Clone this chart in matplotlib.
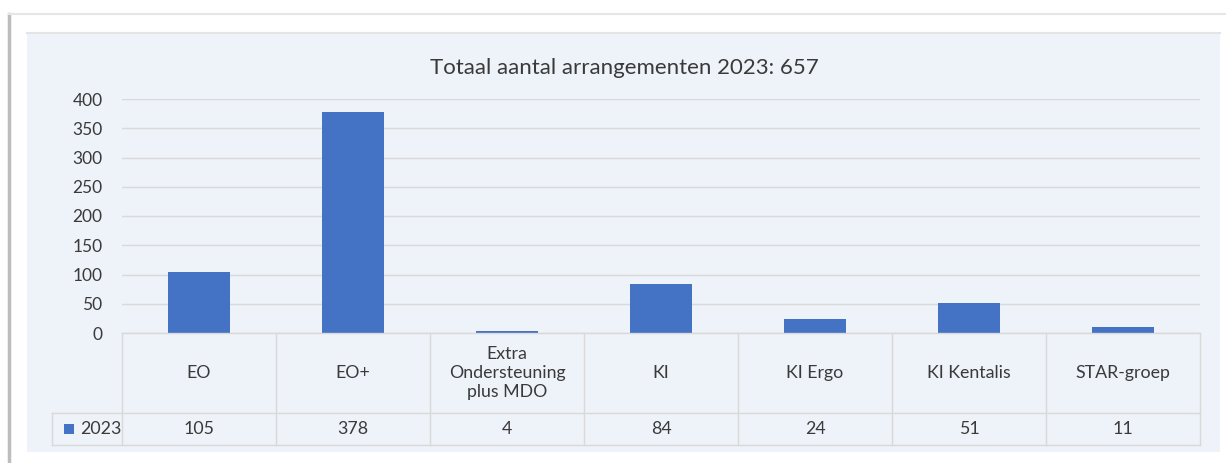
import matplotlib

matplotlib.use("Agg")
import matplotlib.pyplot as plt
from matplotlib.patches import Rectangle
from matplotlib.lines import Line2D

categories = ["EO", "EO+", "Extra\nOndersteuning\nplus MDO", "KI", "KI Ergo", "KI Kentalis", "STAR-groep"]
values_2023 = [105, 378, 4, 84, 24, 51, 11]
series_name = "2023"
title = "Totaal aantal arrangementen 2023: 657"
yticks = [0, 50, 100, 150, 200, 250, 300, 350, 400]

W, H = 1226, 463
BAR = "#4472C4"
PANEL = "#EEF2F9"
GRID = "#D9D9D9"
TXT = "#3A3A3A"

plt.rcParams["font.family"] = ["Lato", "DejaVu Sans"]

fig = plt.figure(figsize=(W / 100, H / 100), dpi=100)
fig.patch.set_facecolor("white")


def fx(px):
    return px / W


def fy(py):
    return 1 - py / H


# frame shadow (left + top) and inner panel
fig.lines.append(Line2D([fx(9), fx(9)], [fy(14), 0], transform=fig.transFigure,
                        color="#BDBDBD", linewidth=2.5, zorder=-3))
fig.lines.append(Line2D([fx(9), 1], [fy(14), fy(14)], transform=fig.transFigure,
                        color="#E6E6E6", linewidth=1.5, zorder=-3))
fig.patches.append(Rectangle((fx(27), fy(452)), fx(1193), fy(33) - fy(452),
                             transform=fig.transFigure, facecolor=PANEL,
                             edgecolor="none", zorder=-2))
fig.lines.append(Line2D([fx(27), fx(1220)], [fy(33), fy(33)], transform=fig.transFigure,
                        color="#E4E4E4", linewidth=1.5, zorder=-1))

left, right = 122, 1200
ax = fig.add_axes([fx(left), fy(333), fx(right - left), fy(99) - fy(333)])
ax.set_facecolor("none")
n = len(categories)
ax.bar(range(n), values_2023, width=0.4, color=BAR, zorder=3)
ax.set_xlim(-0.5, n - 0.5)
ax.set_ylim(0, 400)
ax.set_yticks(yticks)
ax.yaxis.grid(True, color=GRID, linewidth=1)
ax.set_axisbelow(True)
ax.set_xticks([])
for s in ax.spines.values():
    s.set_visible(False)
ax.tick_params(axis="y", length=0, labelsize=12.5, labelcolor=TXT, pad=14)
fig.text(fx(624), fy(68), title, ha="center", va="center", fontsize=16, color=TXT)

# data table below the plot
tab = fig.add_axes([fx(left), fy(445), fx(right - left), fy(333) - fy(445)], sharex=ax)
tab.set_facecolor("none")
tab.set_ylim(112, 0)
tab.axis("off")
label_x = -0.5 - (left - 52) / ((right - left) / n)
lw, lc = 1.0, GRID
tab.plot([-0.5, n - 0.5], [0, 0], color=lc, lw=lw, clip_on=False)
tab.plot([label_x, n - 0.5], [80, 80], color=lc, lw=lw, clip_on=False)
tab.plot([label_x, n - 0.5], [112, 112], color=lc, lw=lw, clip_on=False)
tab.plot([label_x, label_x], [80, 112], color=lc, lw=lw, clip_on=False)
for i in range(n + 1):
    tab.plot([i - 0.5, i - 0.5], [0, 112], color=lc, lw=lw, clip_on=False)
for i, (c, v) in enumerate(zip(categories, values_2023)):
    tab.text(i, 40, c, ha="center", va="center", fontsize=12.8, color=TXT, linespacing=1.2)
    tab.text(i, 96, str(v), ha="center", va="center", fontsize=12.8, color=TXT)
tab.add_patch(Rectangle((label_x + 0.08, 91), 0.06, 10, facecolor=BAR, clip_on=False))
tab.text(label_x + 0.18, 96, series_name, ha="left", va="center", fontsize=12.8, color=TXT)

fig.savefig("out.png", dpi=100, facecolor="white")
